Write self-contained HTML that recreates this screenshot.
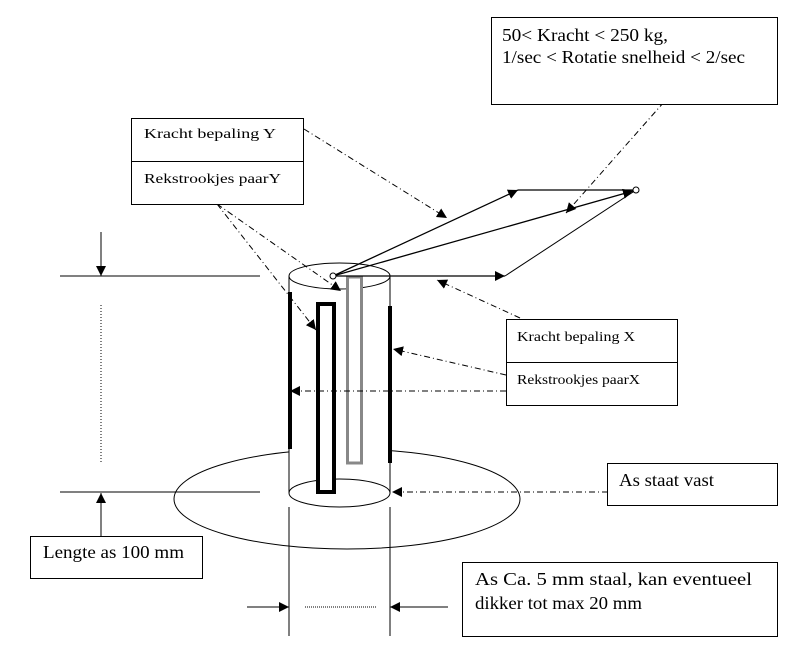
<!DOCTYPE html>
<html><head><style>
body{margin:0;background:#fff;width:790px;height:664px;overflow:hidden}
svg{position:absolute;left:0;top:0}
text{font-family:"Liberation Serif",serif;fill:#000}
</style></head><body>
<svg width="790" height="664" viewBox="0 0 790 664">
<defs>
<marker id="a" viewBox="0 0 10 10" refX="10" refY="5" markerWidth="10" markerHeight="10" markerUnits="userSpaceOnUse" orient="auto"><path d="M0,0L10,5L0,10z" fill="#000"/></marker>
</defs>
<g fill="none" stroke="#000">
<ellipse cx="347" cy="499" rx="173" ry="50" stroke-width="1"/>
<rect x="289" y="276" width="101" height="217" fill="#fff" stroke="none"/>
<line x1="289" y1="276" x2="289" y2="493" stroke-width="1"/>
<line x1="390" y1="276" x2="390" y2="493" stroke-width="1"/>
<ellipse cx="339.5" cy="276" rx="50.5" ry="13" stroke-width="1"/>
<ellipse cx="339.5" cy="493" rx="50.5" ry="14" stroke-width="1"/>
<line x1="290" y1="292" x2="290" y2="449" stroke-width="4"/>
<line x1="390" y1="306" x2="390" y2="463" stroke-width="4"/>
<rect x="318" y="304" width="16" height="188" stroke-width="4" fill="#fff"/>
<rect x="347.5" y="277" width="14" height="186" stroke="#888" stroke-width="3" fill="#fff"/>
<line x1="289" y1="507" x2="289" y2="636"/>
<line x1="390" y1="507" x2="390" y2="636"/>
<line x1="247" y1="607" x2="289" y2="607" marker-end="url(#a)"/>
<line x1="448" y1="607" x2="390" y2="607" marker-end="url(#a)"/>
<line x1="305" y1="607" x2="376" y2="607" stroke-dasharray="1,1"/>
<line x1="60" y1="276" x2="260" y2="276"/>
<line x1="60" y1="492" x2="260" y2="492"/>
<line x1="101" y1="232" x2="101" y2="276" marker-end="url(#a)"/>
<line x1="101" y1="538" x2="101" y2="493" marker-end="url(#a)"/>
<line x1="101" y1="305" x2="101" y2="462" stroke-dasharray="1,2"/>
<line x1="333" y1="276" x2="518" y2="190" stroke-width="1.3" marker-end="url(#a)"/>
<line x1="518" y1="190" x2="636" y2="190" stroke-width="1.3"/>
<line x1="333" y1="276" x2="633" y2="191" stroke-width="1.3" marker-end="url(#a)"/>
<line x1="333" y1="276" x2="505" y2="276" stroke-width="1.3" marker-end="url(#a)"/>
<line x1="505" y1="276" x2="636" y2="190"/>
<g stroke-dasharray="6,3,1,3">
<line x1="304" y1="129" x2="447" y2="218" marker-end="url(#a)"/>
<line x1="664" y1="102" x2="566" y2="213" marker-end="url(#a)"/>
<line x1="217" y1="204" x2="341" y2="291" marker-end="url(#a)"/>
<line x1="217" y1="204" x2="316" y2="330" marker-end="url(#a)"/>
<line x1="520" y1="318" x2="437" y2="280" marker-end="url(#a)"/>
<line x1="506" y1="375" x2="393" y2="349" marker-end="url(#a)"/>
<line x1="506" y1="391" x2="290" y2="391" marker-end="url(#a)"/>
<line x1="608" y1="492" x2="392" y2="492" marker-end="url(#a)"/>
</g>
<rect x="491.5" y="17.5" width="286" height="87" fill="#fff"/>
<rect x="131.5" y="118.5" width="172" height="86" fill="#fff"/>
<line x1="131" y1="161.5" x2="304" y2="161.5"/>
<rect x="506.5" y="319.5" width="171" height="86" fill="#fff"/>
<line x1="506" y1="362.5" x2="678" y2="362.5"/>
<rect x="607.5" y="463.5" width="170" height="42" fill="#fff"/>
<rect x="30.5" y="536.5" width="172" height="42" fill="#fff"/>
<rect x="462.5" y="562.5" width="315" height="74" fill="#fff"/>
</g>
<circle cx="333" cy="276" r="3" fill="#fff" stroke="#000"/>
<circle cx="636" cy="190" r="3" fill="#fff" stroke="#000"/>
<text x="502" y="41" font-size="18" textLength="166" lengthAdjust="spacingAndGlyphs">50&lt; Kracht &lt; 250 kg,</text>
<text x="502" y="63" font-size="18" textLength="243" lengthAdjust="spacingAndGlyphs">1/sec &lt; Rotatie snelheid &lt; 2/sec</text>
<text x="144" y="138" font-size="14" textLength="132" lengthAdjust="spacingAndGlyphs">Kracht bepaling Y</text>
<text x="144" y="183" font-size="14" textLength="137" lengthAdjust="spacingAndGlyphs">Rekstrookjes paarY</text>
<text x="517" y="341" font-size="14" textLength="118" lengthAdjust="spacingAndGlyphs">Kracht bepaling X</text>
<text x="517" y="384" font-size="14" textLength="123" lengthAdjust="spacingAndGlyphs">Rekstrookjes paarX</text>
<text x="619" y="486" font-size="18" textLength="95" lengthAdjust="spacingAndGlyphs">As staat vast</text>
<text x="43" y="558" font-size="18" textLength="141" lengthAdjust="spacingAndGlyphs">Lengte as 100 mm</text>
<text x="475" y="585" font-size="18" textLength="277" lengthAdjust="spacingAndGlyphs">As Ca. 5 mm staal, kan eventueel</text>
<text x="475" y="609" font-size="18" textLength="167" lengthAdjust="spacingAndGlyphs">dikker tot max 20 mm</text>
</svg>
</body></html>
